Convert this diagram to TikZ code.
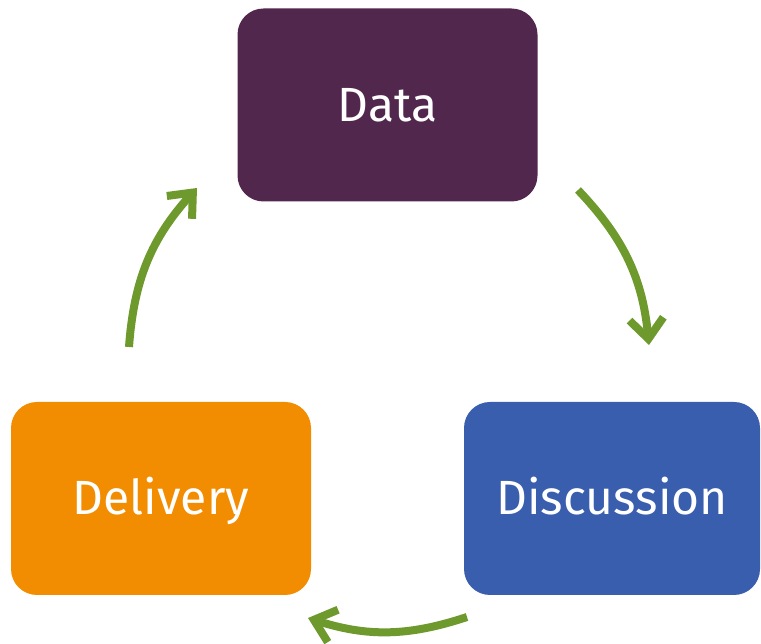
\documentclass[tikz,border=0pt]{standalone}
\usepackage{fontspec}
\setmainfont{Fira Sans}
\usetikzlibrary{arrows.meta}
\definecolor{datapurple}{HTML}{52274E}
\definecolor{deliveryorange}{HTML}{F28C00}
\definecolor{discussionblue}{HTML}{395EAD}
\definecolor{cyclegreen}{HTML}{6E9A2D}
\begin{document}
\begin{tikzpicture}
[x=1pt,y=1pt,
 stage/.style={rectangle,rounded corners=26pt,minimum width=300pt,
   minimum height=193pt,inner sep=0pt,text=white,
   text height=33pt,text depth=0pt,font=\fontsize{48}{52}\selectfont},
 cycle/.style={line width=8pt,draw=cyclegreen,
   -{Straight Barb[length=20pt,width=34pt]}}]
\useasboundingbox (0,0) rectangle (761,644);

\node [stage,fill=datapurple] (data) at (387.5,539) {Data};
\node [stage,fill=deliveryorange] (delivery) at (161,145.5) {Delivery};
\node [stage,fill=discussionblue,minimum width=296pt] (discussion)
  at (612,145.5) {Discussion};

\coordinate (up start) at (129,297);
\coordinate (up end) at (197,456);
\coordinate (down start) at (578,454);
\coordinate (down end) at (649,299);
\coordinate (back start) at (467,27);
\coordinate (back end) at (308,26);

\draw [cycle] (up start) to [bend left=19] (up end);
\draw [cycle] (down start) to [bend left=19] (down end);
\draw [cycle] (back start) to [bend left=18] (back end);
\end{tikzpicture}
\end{document}
